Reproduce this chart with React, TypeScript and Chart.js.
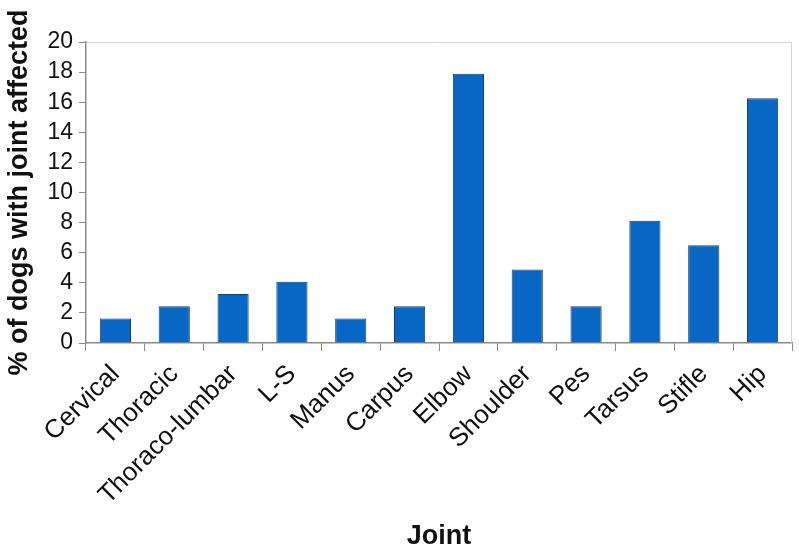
import React, { useEffect, useRef } from "react";
import { Chart, registerables } from "chart.js";

Chart.register(...registerables);

const joints = ["Cervical", "Thoracic", "Thoraco-lumbar", "L-S", "Manus", "Carpus", "Elbow", "Shoulder", "Pes", "Tarsus", "Stifle", "Hip"];
const percentAffected = [1.63, 2.44, 3.25, 4.07, 1.63, 2.44, 17.89, 4.88, 2.44, 8.13, 6.5, 16.26];
const yTicks = [0, 2, 4, 6, 8, 10, 12, 14, 16, 18, 20];

const plotBorder = {
  id: "plotBorder",
  afterDraw(chart: any) {
    const { ctx, chartArea } = chart;
    ctx.save();
    ctx.strokeStyle = "#d4d4d4";
    ctx.lineWidth = 1;
    ctx.beginPath();
    ctx.moveTo(chartArea.left, chartArea.top + 0.5);
    ctx.lineTo(chartArea.right - 0.5, chartArea.top + 0.5);
    ctx.lineTo(chartArea.right - 0.5, chartArea.bottom);
    ctx.stroke();
    ctx.restore();
  },
};

export default function App() {
  const ref = useRef<HTMLCanvasElement>(null);
  useEffect(() => {
    const chart = new Chart(ref.current!, {
      type: "bar",
      data: {
        labels: joints,
        datasets: [
          {
            data: percentAffected,
            backgroundColor: "#0866c4",
            borderColor: "#1d3d68",
            borderWidth: 1,
            barPercentage: 0.53,
            categoryPercentage: 1,
          },
        ],
      },
      options: {
        animation: false,
        responsive: false,
        maintainAspectRatio: false,
        layout: { padding: { top: 42, right: 7, left: 0, bottom: 0 } },
        plugins: { legend: { display: false }, tooltip: { enabled: false } },
        scales: {
          x: {
            grid: { display: true, drawOnChartArea: false, drawTicks: true, tickLength: 8, color: "#8a8a8a", offset: true },
            border: { display: true, color: "#8a8a8a", width: 1.5 },
            ticks: {
              color: "#111",
              font: { family: "Liberation Sans, Arial, sans-serif", size: 26 },
              minRotation: 45,
              maxRotation: 45,
              autoSkip: false,
              padding: 8,
            },
            title: {
              display: true,
              text: "Joint",
              color: "#111",
              font: { family: "Liberation Sans, Arial, sans-serif", size: 27, weight: "bold" },
              padding: { top: 0, bottom: 5 },
            },
            afterFit(scale: any) {
              scale.height = 215;
            },
          },
          y: {
            min: 0,
            max: 20,
            afterBuildTicks(scale: any) {
              scale.ticks = yTicks.map((v) => ({ value: v }));
            },
            grid: { display: true, drawOnChartArea: false, drawTicks: true, tickLength: 7, color: "#8a8a8a" },
            border: { display: true, color: "#8a8a8a", width: 1.5 },
            ticks: {
              color: "#111",
              font: { family: "Liberation Sans, Arial, sans-serif", size: 23 },
              padding: 6,
              autoSkip: false,
            },
            title: {
              display: true,
              text: "% of dogs with joint affected",
              color: "#111",
              font: { family: "Liberation Sans, Arial, sans-serif", size: 27, weight: "bold" },
              padding: { top: 3, bottom: 0 },
            },
            afterFit(scale: any) {
              scale.width = 86;
            },
          },
        },
      },
      plugins: [plotBorder],
    });
    return () => chart.destroy();
  }, []);
  return (
    <div style={{ position: "fixed", left: 0, top: 0, width: 799, height: 558, background: "#fff" }}>
      <canvas ref={ref} width={799} height={558} style={{ display: "block" }} />
    </div>
  );
}
